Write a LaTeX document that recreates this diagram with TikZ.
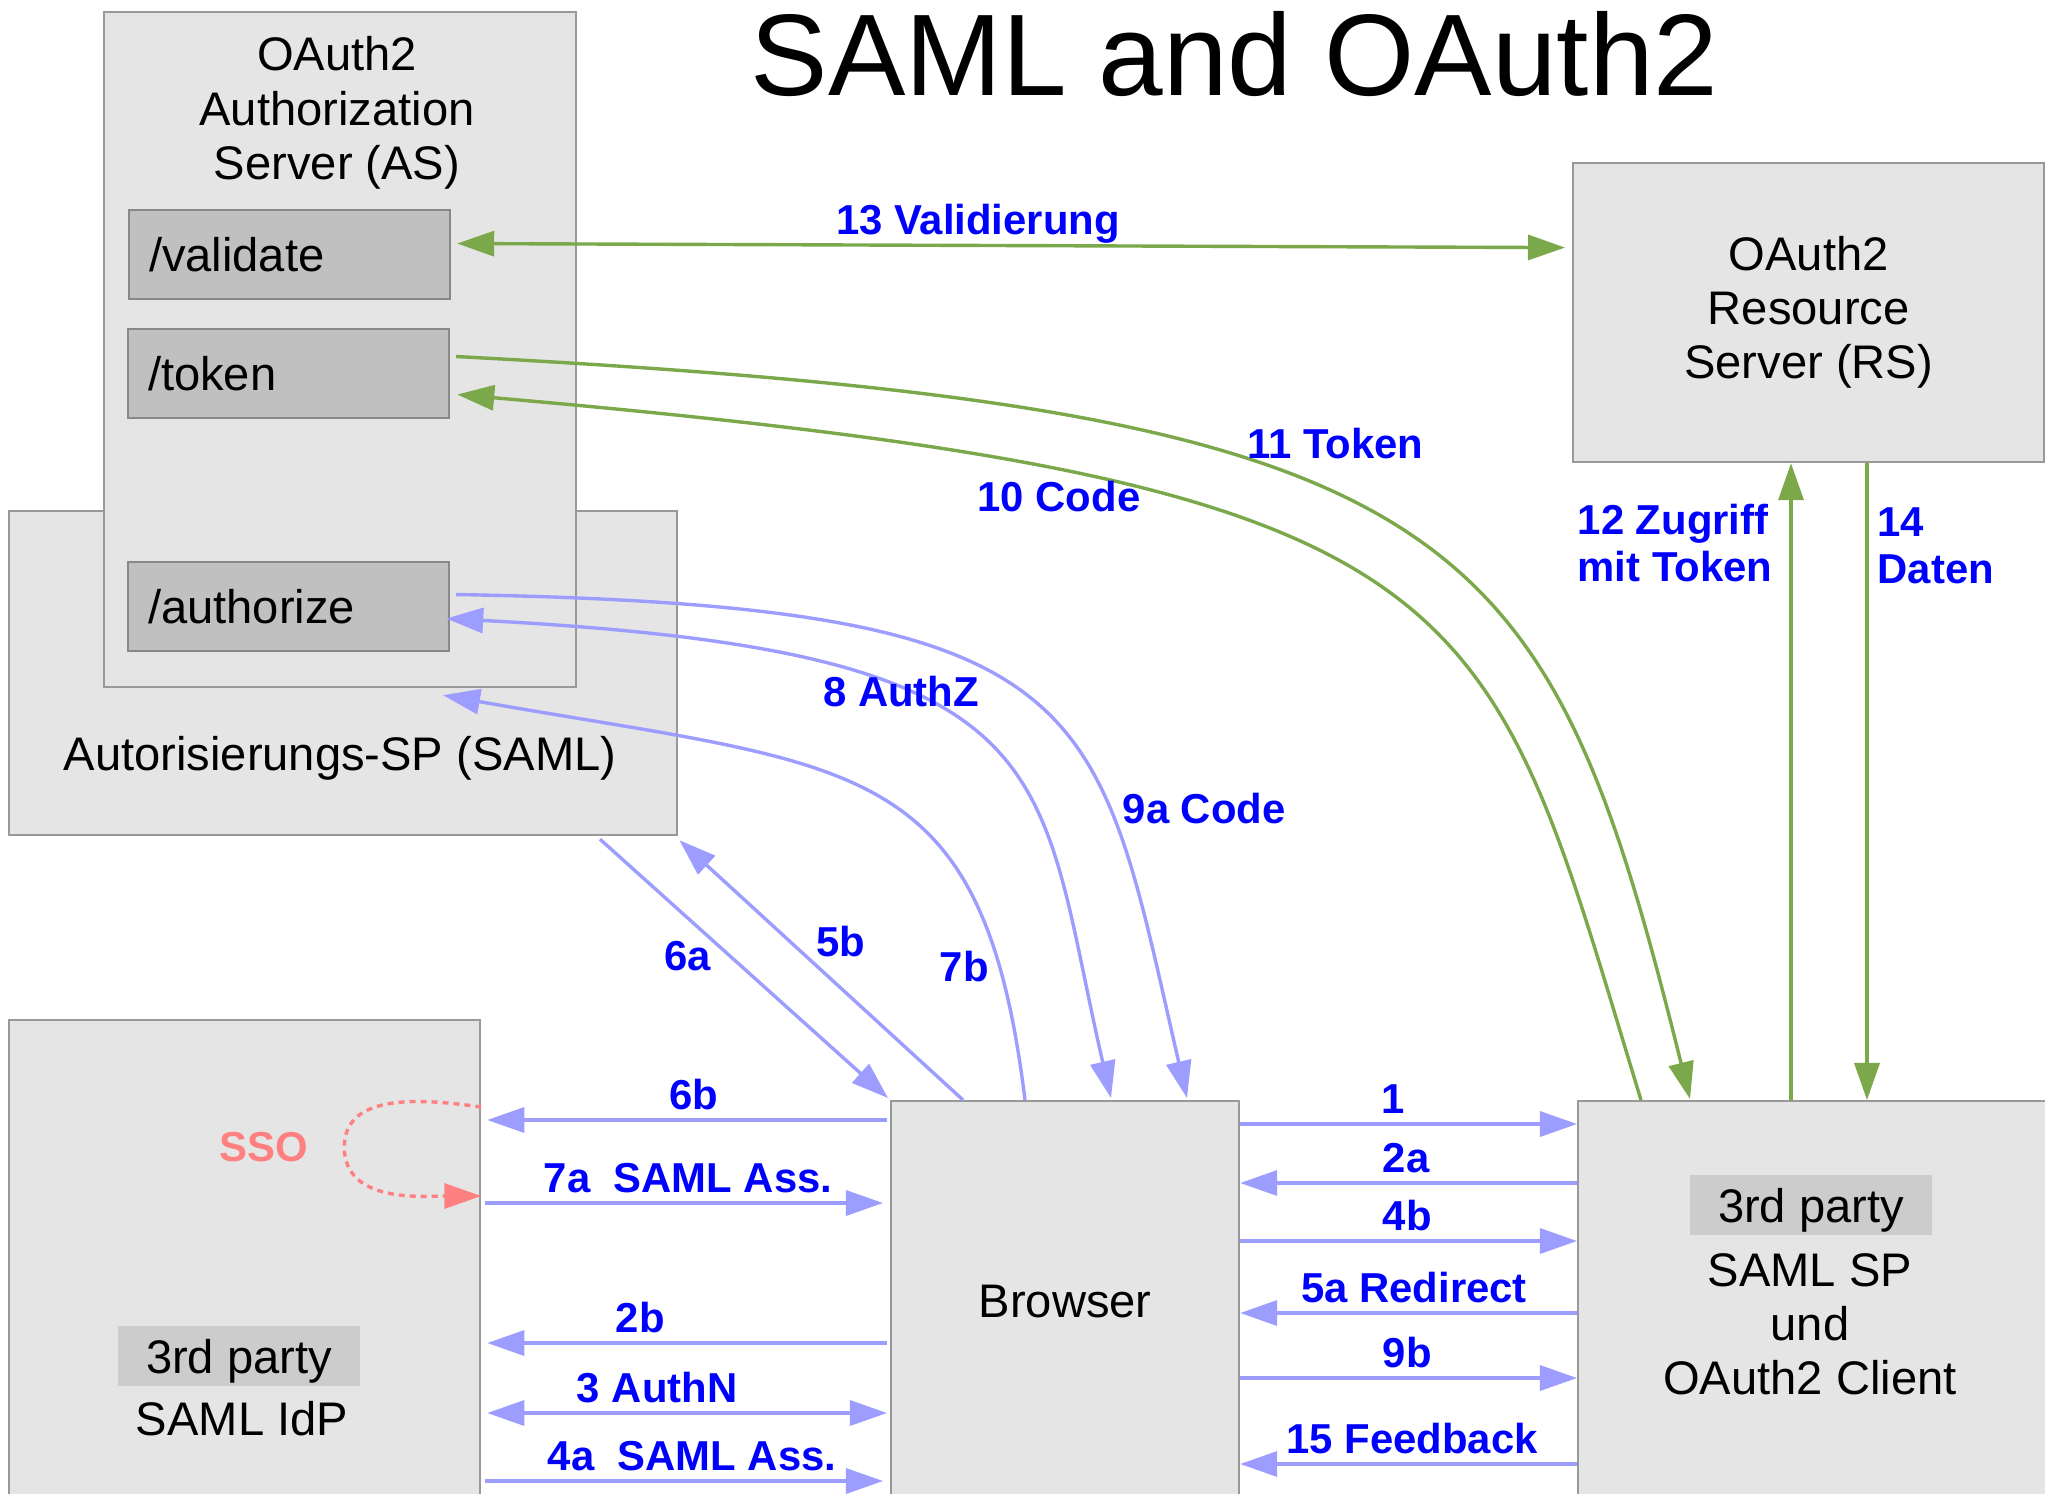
\documentclass[tikz,border=0pt]{standalone}
\usepackage{fontspec}
\setmainfont{Liberation Sans}
\usetikzlibrary{arrows.meta,calc,positioning}

\definecolor{boxfill}{HTML}{E5E5E5}
\definecolor{boxline}{HTML}{999999}
\definecolor{epfill}{HTML}{C0C0C0}
\definecolor{epline}{HTML}{888888}
\definecolor{tagfill}{HTML}{CCCCCC}
\definecolor{samlblue}{HTML}{9D9DFF}
\definecolor{lblblue}{HTML}{0000FF}
\definecolor{oagreen}{HTML}{7AA84A}
\definecolor{ssored}{HTML}{FF8080}

\tikzset{
  box/.style={draw=boxline, fill=boxfill, line width=0.02cm, anchor=north west, inner sep=0pt},
  txt/.style={font=\fontsize{13.4}{15.4}\selectfont, align=center, inner sep=0pt},
  endpoint/.style={draw=epline, fill=epfill, line width=0.02cm, anchor=north west,
    minimum width=3.21cm, minimum height=0.89cm, inner xsep=0.2cm, text width=2.81cm,
    align=left, font=\fontsize{13.4}{15.4}\selectfont},
  tag/.style={fill=tagfill, minimum width=2.41cm, minimum height=0.6cm, inner sep=0pt,
    text depth=0pt, font=\fontsize{13.4}{15.4}\selectfont},
  lbl/.style={font=\bfseries\fontsize{11.9}{13.4}\selectfont, text=lblblue, inner sep=0.09cm},
  hlbl/.style={lbl, text depth=0pt},
  saml/.style={draw=samlblue, line width=0.034cm},
  oauth/.style={draw=oagreen, line width=0.034cm},
  sso/.style={draw=ssored, line width=0.034cm, dash pattern=on 0.06cm off 0.05cm}
}

\begin{document}
\begin{tikzpicture}[x=0.01cm, y=-0.01cm, >={Triangle[length=0.37cm,width=0.25cm]}]
  \useasboundingbox (0,0) rectangle (2045,1493);

  \node[anchor=base west, inner sep=0pt, font=\fontsize{33}{38}\selectfont] (title) at (750,95) {SAML and OAuth2};

  % servers
  \node[box, minimum width=6.68cm, minimum height=3.24cm] (azsp) at (8,510) {};
  \node[txt, anchor=base west] (azsptext) at (63,770) {Autorisierungs-SP (SAML)};
  \node[box, minimum width=4.72cm, minimum height=6.75cm] (as) at (103,11) {};
  \node[txt, anchor=north] (astext) at (337,36) {OAuth2\\Authorization\\Server (AS)};
  \node[endpoint] (validate) at (128,209) {/validate};
  \node[endpoint] (token) at (127,328) {/token};
  \node[endpoint] (authorize) at (127,561) {/authorize};

  \node[box, txt, minimum width=4.71cm, minimum height=2.99cm] (rs) at (1572,162) {OAuth2\\Resource\\Server (RS)};

  \node[box, minimum width=4.71cm, minimum height=5cm] (idp) at (8,1019) {};
  \node[tag] (idptag) at (239,1356) {3rd party};
  \node[txt, anchor=base] (idptext) at (242,1435) {SAML IdP};

  \node[box, txt, minimum width=3.48cm, minimum height=4cm] (browser) at (890,1100) {Browser};

  \node[box, minimum width=5cm, minimum height=4.2cm] (sp) at (1577,1100) {};
  \node[tag] (sptag) at (1811,1205) {3rd party};
  \node[txt, anchor=north] (sptext) at (1810,1253) {SAML SP\\und\\OAuth2 Client};

  % OAuth2 flows
  \draw[oauth, <->] ($(validate.east)+(6,-11)$) -- node[hlbl, above, pos=0.47] (l13) {13 Validierung} ($(rs.west)+(-7,-65)$);
  \draw[oauth, ->] ($(token.east)+(6,-17)$) to[out=-3, in=104, out distance=10.15cm, in distance=5.96cm]
    node[hlbl, pos=0.44, above=0.26cm] (l11) {11 Token} ($(sp.north west)+(113,-1)$);
  \draw[oauth, ->] ($(sp.north west)+(64,0)$) to[out=107, in=-5, out distance=5.38cm, in distance=10.44cm]
    node[hlbl, pos=0.75, below] (l10) {10 Code} ($(token.east)+(7,21)$);
  \draw[oauth, ->] ($(sp.north west)+(214,0)$) -- node[lbl, pos=0.875, left=0.08cm, align=left] (l12) {12 Zugriff\\mit Token} ($(rs.south west)+(219,0)$);
  \draw[oauth, ->] ($(rs.south west)+(295,0)$) -- node[lbl, pos=0.13, right, align=left] (l14) {14\\Daten} ($(sp.north west)+(290,0)$);

  % SAML flows
  \draw[saml, ->] ($(azsp.south west)+(592,3)$) -- node[lbl, pos=0.45, left=0.08cm] (l6a) {6a} ($(browser.north west)+(-2,-2)$);
  \draw[saml, ->] ($(browser.north west)+(73,0)$) -- node[lbl, pos=0.61, right=0.16cm] (l5b) {5b} ($(azsp.south east)+(1,4)$);
  \draw[saml, ->] ($(browser.north west)+(135,0)$) to[out=97, in=-10, out distance=3.5cm, in distance=4.2cm]
    node[lbl, pos=0.15, left] (l7b) {7b} ($(azsp.south west)+(435,-141)$);
  \draw[saml, <->] ($(authorize.east)+(-4,12)$) to[out=-3, in=103, out distance=6.28cm, in distance=3.42cm]
    node[lbl, pos=0.36] (l8) {8 AuthZ} ($(browser.north west)+(221,-2)$);
  \draw[saml, ->] ($(authorize.east)+(6,-12)$) to[out=-1, in=103, out distance=6.48cm, in distance=4.09cm]
    node[lbl, pos=0.69, right=0.04cm] (l9a) {9a Code} ($(browser.north west)+(297,-2)$);

  \draw[saml, ->] ($(browser.north west)+(-3,20)$) -- node[hlbl, above, pos=0.483] (l6b) {6b} ($(idp.north east)+(6,101)$);
  \draw[saml, ->] ($(idp.north east)+(4,184)$) -- node[hlbl, above, pos=0.51] (l7a) {7a~~SAML Ass.} ($(browser.north west)+(-7,103)$);
  \draw[saml, ->] ($(browser.north west)+(-3,243)$) -- node[hlbl, above, pos=0.617] (l2b) {2b} ($(idp.north east)+(6,324)$);
  \draw[saml, <->] ($(idp.north east)+(6,394)$) -- node[hlbl, above, pos=0.425] (l3) {3 AuthN} ($(browser.north west)+(-3,313)$);
  \draw[saml, ->] ($(idp.north east)+(4,462)$) -- node[hlbl, above, pos=0.52] (l4a) {4a~~SAML Ass.} ($(browser.north west)+(-7,381)$);

  \draw[saml, ->] ($(browser.north east)+(0,24)$) -- node[hlbl, above, pos=0.454] (l1) {1} ($(sp.north west)+(0,24)$);
  \draw[saml, ->] ($(sp.north west)+(0,83)$) -- node[hlbl, above, pos=0.507] (l2a) {2a} ($(browser.north east)+(0,83)$);
  \draw[saml, ->] ($(browser.north east)+(0,141)$) -- node[hlbl, above, pos=0.496] (l4b) {4b} ($(sp.north west)+(0,141)$);
  \draw[saml, ->] ($(sp.north west)+(0,213)$) -- node[hlbl, above, pos=0.484] (l5a) {5a Redirect} ($(browser.north east)+(0,213)$);
  \draw[saml, ->] ($(browser.north east)+(0,278)$) -- node[hlbl, above, pos=0.496] (l9b) {9b} ($(sp.north west)+(0,278)$);
  \draw[saml, ->] ($(sp.north west)+(0,364)$) -- node[hlbl, above, pos=0.49] (l15) {15 Feedback} ($(browser.north east)+(0,364)$);

  % single sign-on
  \draw[sso, ->] ($(idp.north east)+(0,88)$) to[out=172, in=90] ($(idp.north east)+(-137,128)$)
    to[out=-90, in=180] ($(idp.north east)+(0,177)$);
  \node[lbl, text=ssored, inner sep=0pt] (sso) at (264,1147) {SSO};
\end{tikzpicture}
\end{document}
